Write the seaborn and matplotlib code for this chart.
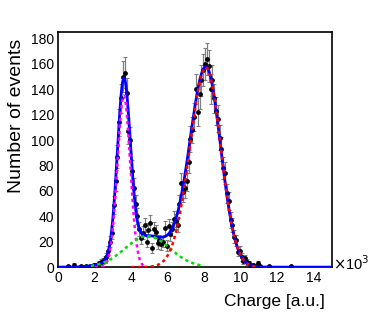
import numpy as np
import pandas as pd
import seaborn as sns
import matplotlib.pyplot as plt
from matplotlib.ticker import MultipleLocator, AutoMinorLocator

# histogram: bin centres (x10^3) and counts, 0.1 wide bins
charge = [0.55, 0.85, 1.25, 1.55, 1.75, 1.85, 1.95,
          2.05, 2.15, 2.25, 2.35, 2.45, 2.55, 2.65, 2.75, 2.85, 2.95,
          3.05, 3.15, 3.25, 3.35, 3.45, 3.55, 3.65, 3.75, 3.85, 3.95,
          4.05, 4.15, 4.25, 4.35, 4.45, 4.55, 4.65, 4.75, 4.85, 4.95,
          5.05, 5.15, 5.25, 5.35, 5.45, 5.55, 5.65, 5.75, 5.85, 5.95,
          6.05, 6.15, 6.25, 6.35, 6.45, 6.55, 6.65, 6.75, 6.85, 6.95,
          7.05, 7.15, 7.25, 7.35, 7.45, 7.55, 7.65, 7.75, 7.85, 7.95,
          8.05, 8.15, 8.25, 8.35, 8.45, 8.55, 8.65, 8.75, 8.85, 8.95,
          9.05, 9.15, 9.25, 9.35, 9.45, 9.55, 9.65, 9.75, 9.85, 9.95,
          10.05, 10.15, 10.25, 10.35, 10.45, 10.55, 10.65, 10.85, 10.95,
          11.05, 11.55, 12.75]
counts = [1, 2, 1, 1, 1, 1, 2,
          2, 2, 3, 4, 5, 6, 8, 13, 20, 27,
          49, 68, 87, 114, 133, 150, 153, 137, 107, 100,
          76, 62, 50, 40, 30, 23, 27, 33, 20, 29,
          35, 15, 30, 28, 19, 21, 18, 20, 31, 17,
          32, 26, 30, 38, 36, 33, 50, 66, 59, 62,
          68, 83, 101, 108, 118, 140, 122, 136, 147, 155,
          160, 164, 158, 140, 147, 133, 123, 117, 102, 93,
          78, 74, 58, 52, 37, 33, 24, 21, 12, 13,
          8, 5, 7, 4, 3, 1, 2, 1, 3,
          1, 1, 1]

# fit components: amplitude, mean, sigma (x10^3); second peak has left/right sigma
peak1 = [135, 3.6, 0.35]
shoulder = [24.5, 4.9, 1.22]
peak2 = [157, 8.1, 0.88, 0.8]


def gaus(x, p):
    return p[0] * np.exp(-0.5 * ((x - p[1]) / p[2]) ** 2)


def bigaus(x, p):
    sig = np.where(x < p[1], p[2], p[3])
    return p[0] * np.exp(-0.5 * ((x - p[1]) / sig) ** 2)


df = pd.DataFrame({"charge": charge, "counts": counts})
df["err"] = np.sqrt(df["counts"])

sns.set_style("white")
plt.rcParams['font.family'] = ['Liberation Sans', 'DejaVu Sans']
plt.rcParams['text.color'] = 'black'
plt.rcParams['axes.labelcolor'] = 'black'

fig = plt.figure(figsize=(3.82, 3.15), dpi=100)
ax = fig.add_axes([0.152, 0.152, 0.717, 0.746])

ax.errorbar(df["charge"], df["counts"], yerr=df["err"], fmt='none',
            ecolor='#808080', elinewidth=0.9, capsize=1.2, capthick=0.8, zorder=2)
sns.scatterplot(data=df, x="charge", y="counts", color='black', s=12,
                edgecolor='black', linewidth=0, ax=ax, zorder=3)

xt = np.linspace(0, 15, 1500)
total = gaus(xt, peak1) + gaus(xt, shoulder) + bigaus(xt, peak2)
sns.lineplot(x=xt, y=total, color='#0000ff', linewidth=2, ax=ax, zorder=4)

x1 = np.linspace(2.0, 4.7, 300)
x2 = np.linspace(1.8, 8.0, 300)
x3 = np.linspace(4.0, 11.0, 300)
dash = (0, (1.3, 1.3))
ax.plot(x1, gaus(x1, peak1), color='#ff00ff', lw=1.8, ls=dash, zorder=5)
ax.plot(x2, gaus(x2, shoulder), color='#00e000', lw=1.8, ls=dash, zorder=5)
ax.plot(x3, bigaus(x3, peak2), color='#ff0000', lw=1.8, ls=dash, zorder=5)

ax.set_xlim(0, 15)
ax.set_ylim(0, 185)
ax.xaxis.set_major_locator(MultipleLocator(2))
ax.xaxis.set_minor_locator(AutoMinorLocator(5))
ax.yaxis.set_major_locator(MultipleLocator(20))
ax.yaxis.set_minor_locator(AutoMinorLocator(4))
ax.tick_params(which='both', direction='in', top=False, right=False,
               labelsize=10, colors='black', pad=3)
ax.tick_params(which='major', length=7, width=0.8)
ax.tick_params(which='minor', length=3.5, width=0.8)
for s in ax.spines.values():
    s.set_color('black')
    s.set_linewidth(1.2)

ax.set_xlabel("Charge [a.u.]", fontsize=12.5)
ax.xaxis.set_label_coords(0.975, -0.115, transform=ax.transAxes)
ax.xaxis.label.set_horizontalalignment('right')
ax.set_ylabel("Number of events", fontsize=14)
ax.yaxis.set_label_coords(-0.15, 0.97, transform=ax.transAxes)
ax.yaxis.label.set_horizontalalignment('right')
ax.yaxis.label.set_verticalalignment('center')
ax.text(1.003, 0.015, r"$\times$10$^{3}$", transform=ax.transAxes,
        fontsize=10.5, ha='left', va='center')

fig.savefig("out.png", dpi=100)
